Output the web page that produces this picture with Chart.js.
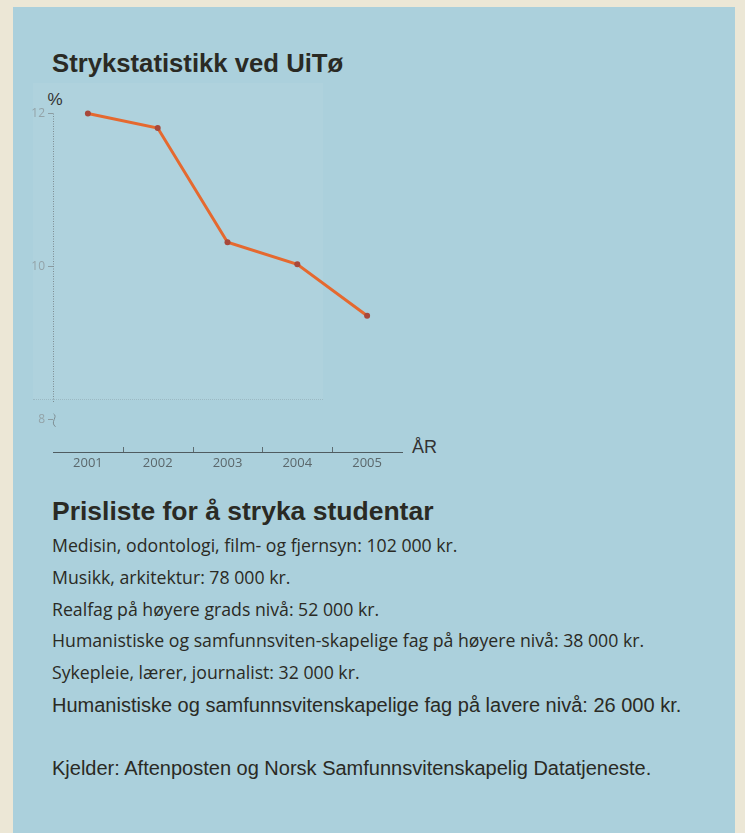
<!DOCTYPE html>
<html><head><meta charset="utf-8">
<script src="https://cdn.jsdelivr.net/npm/chart.js@4.4.1/dist/chart.umd.min.js"></script>
<style>
html,body{margin:0;padding:0}
body{width:745px;height:833px;background:#ece7d6;position:relative;overflow:hidden}
#panel{position:absolute;left:13px;top:7px;width:722px;height:826px;background:#abd0dc}
#plotbg{position:absolute;left:33px;top:83px;width:290px;height:316px;background:rgba(255,255,255,0.05);border-bottom:1px dotted rgba(110,130,135,0.3)}
#c{position:absolute;left:0;top:0}
.t{position:absolute;left:52px;white-space:nowrap;line-height:1;color:#2a2a24}
.h{font-family:"Liberation Sans",Arial,sans-serif;font-weight:bold}
.b1{font-family:"Open Sans",sans-serif;font-size:17.7px}
.b2{font-family:"Liberation Sans",Arial,sans-serif;font-size:20px}
</style></head>
<body>
<div id="panel"></div>
<div id="plotbg"></div>
<div class="t h" style="top:51.2px;font-size:25.7px">Strykstatistikk ved UiTø</div>
<div class="t" style="left:47.5px;top:90.6px;font-size:17px;font-family:'Liberation Sans',Arial,sans-serif;color:#333">%</div>
<div class="t" style="left:412px;top:437.8px;font-size:18px;font-family:'Liberation Sans',Arial,sans-serif;color:#333">ÅR</div>
<canvas id="c" width="745" height="480"></canvas>
<div class="t h" style="top:497.6px;font-size:26.5px">Prisliste for å stryka studentar</div>
<div class="t b1" style="top:537.3px">Medisin, odontologi, film- og fjernsyn: 102 000 kr.</div>
<div class="t b1" style="top:569.3px">Musikk, arkitektur: 78 000 kr.</div>
<div class="t b1" style="top:600.8px">Realfag på høyere grads nivå: 52 000 kr.</div>
<div class="t b1" style="top:632.3px">Humanistiske og samfunnsviten-skapelige fag på høyere nivå: 38 000 kr.</div>
<div class="t b1" style="top:664.3px">Sykepleie, lærer, journalist: 32 000 kr.</div>
<div class="t b2" style="top:694.6px">Humanistiske og samfunnsvitenskapelige fag på lavere nivå: 26 000 kr.</div>
<div class="t b2" style="top:758.1px">Kjelder: Aftenposten og Norsk Samfunnsvitenskapelig Datatjeneste.</div>
<script>
const years = ['2001', '2002', '2003', '2004', '2005'];
const failRate = [12.0, 11.81, 10.32, 10.03, 9.36];
const yTicks = [8, 10, 12];
const yMin = 7.58, yMax = 12;

const axisDecor = {
  id: 'axisDecor',
  beforeDatasetsDraw(chart) {
    const {ctx, scales: {x, y}} = chart;
    ctx.save();
    ctx.strokeStyle = '#7d8d92';
    ctx.lineWidth = 1;
    ctx.setLineDash([1, 1.5]);
    const ax = x.left + 0.5;
    ctx.beginPath();
    ctx.moveTo(ax, y.getPixelForValue(yMax));
    ctx.lineTo(ax, y.getPixelForValue(8.23));
    ctx.stroke();
    ctx.setLineDash([]);
    const yb = y.getPixelForValue(8);
    ctx.beginPath();
    ctx.moveTo(ax, yb - 6);
    ctx.bezierCurveTo(ax + 5, yb - 3, ax - 4, yb + 2, ax + 2, yb + 7);
    ctx.stroke();
    ctx.strokeStyle = '#5f6d72';
    for (let i = 0; i < years.length - 1; i++) {
      const px = Math.round((x.getPixelForTick(i) + x.getPixelForTick(i + 1)) / 2) + 0.5;
      ctx.beginPath();
      ctx.moveTo(px, y.bottom);
      ctx.lineTo(px, y.bottom - 5);
      ctx.stroke();
    }
    ctx.restore();
  }
};

new Chart(document.getElementById('c'), {
  type: 'line',
  data: {
    labels: years,
    datasets: [{
      data: failRate,
      borderColor: '#e5692f',
      borderWidth: 3,
      pointRadius: 3,
      pointBackgroundColor: '#a8483a',
      pointBorderColor: '#a8483a',
      pointBorderWidth: 0,
      tension: 0,
      clip: false
    }]
  },
  options: {
    responsive: false,
    animation: false,
    layout: {padding: {left: 0, right: 343, top: 113.5, bottom: 0}},
    plugins: {legend: {display: false}, tooltip: {enabled: false}},
    scales: {
      x: {
        type: 'category',
        offset: true,
        grid: {display: false, drawTicks: false},
        border: {display: true, color: '#4f5c61', dash: [2, 1], width: 1},
        ticks: {color: '#5b676b', font: {family: 'Open Sans', size: 13}, padding: 3, maxRotation: 0, autoSkip: false},
        afterFit(s) { s.height = 28; }
      },
      y: {
        type: 'linear',
        min: yMin,
        max: yMax,
        afterBuildTicks(s) { s.ticks = yTicks.map(v => ({value: v})); },
        grid: {display: true, drawOnChartArea: false, drawTicks: true, tickLength: 5, color: '#8c9ca1', lineWidth: 1},
        border: {display: false},
        ticks: {color: '#93a3a8', font: {family: 'Open Sans', size: 12}, padding: 3},
        afterFit(s) { s.width = 53; }
      }
    }
  },
  plugins: [axisDecor]
});
</script>
</body></html>
